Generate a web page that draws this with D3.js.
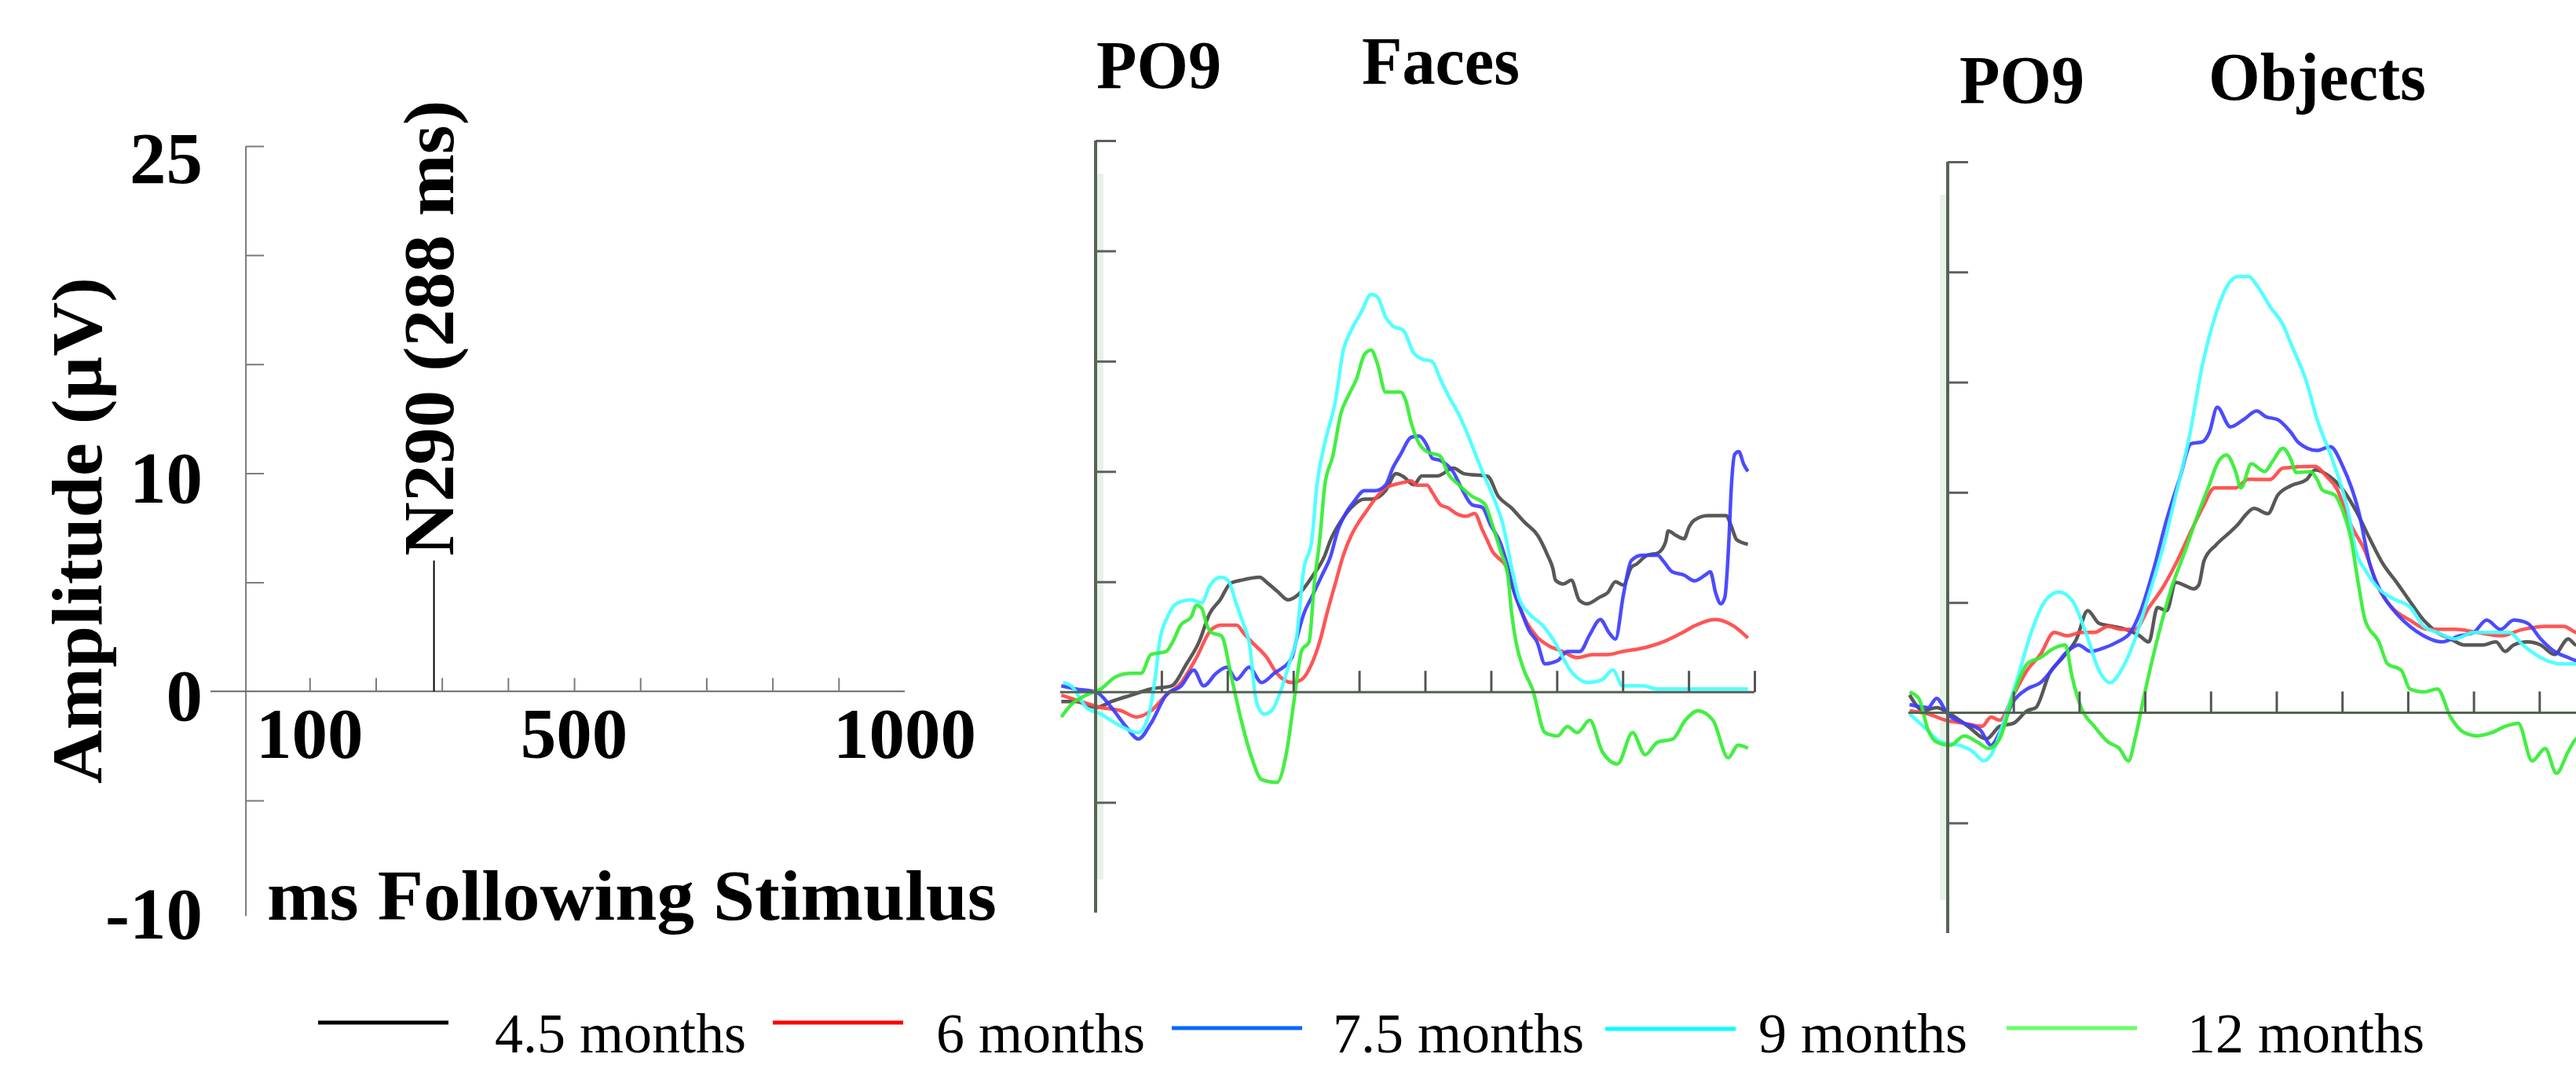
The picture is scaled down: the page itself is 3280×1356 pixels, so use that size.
<!DOCTYPE html>
<html><head><meta charset="utf-8">
<script src="https://cdn.jsdelivr.net/npm/d3@7"></script>
<style>body{margin:0;background:#fff}svg{display:block}</style>
</head><body><svg id="c" width="3280" height="1356"></svg>
<script>
// ---------------- DATA ----------------
const seriesNames = ["4.5 months","6 months","7.5 months","9 months","12 months"];
const legendColors = ["#000000","#ff0000","#0a66ff","#00ffff","#66ff66"];
const traceColors = ["#4a4a4a","#ff4646","#3c3cff","#44ffff","#33ee33"];
const leftYTickLabels = [25,10,0,-10];
const leftXTickLabels = [100,500,1000];
const yTickValues = [-5,0,5,10,15,20,25];
const xTickValues = [100,200,300,400,500,600,700,800,900];
const panelXTickValues = [100,200,300,400,500,600,700,800,900,1000];
const n290Ms = 288, n290Uv = 6, n290Label = "N290 (288 ms)";
const titleElectrode = "PO9";
const panelTitles = ["Faces","Objects"];

// Faces, PO9: [ms, µV]
const facesBlack = [[-52,-0.43],[-30,-0.43],[1,-0.7],[24,-0.43],[54,-0.14],[84,0.14],[115,0.28],[138,1.28],[157,2.27],[173,3.55],[189,4.18],[205,4.94],[221,5.07],[249,5.2],[261,4.94],[276,4.56],[292,4.18],[308,4.43],[328,5.2],[348,6.2],[356,6.85],[372,7.73],[388,8.37],[408,8.75],[420,8.75],[440,9.13],[456,9.9],[467,9.77],[483,9.4],[495,9.8],[519,9.8],[543,10.15],[559,9.9],[595,9.78],[611,8.88],[631,8.35],[651,7.7],[671,7.1],[686,6.2],[694,5.6],[698,5.07],[710,4.9],[722,5.07],[734,4.17],[746,4.0],[765,4.3],[777,4.5],[789,5.0],[801,4.85],[813,5.65],[821,5.8],[837,6.2],[853,6.3],[865,6.8],[869,7.3],[881,7.1],[893,6.95],[901,7.5],[909,7.8],[929,8.0],[957,8.0],[965,7.5],[973,6.9],[990,6.7]];
const facesRed = [[-52,-0.14],[-22,-0.43],[8,-0.7],[39,-0.85],[62,-1.13],[84,-0.85],[107,-0.14],[130,0.43],[153,1.56],[176,2.84],[191,3.03],[214,3.03],[225,2.66],[237,2.27],[260,1.56],[275,0.85],[298,0.43],[313,0.57],[328,1.28],[340,2.27],[352,3.67],[364,4.94],[376,6.2],[388,7.1],[400,7.73],[412,8.24],[424,8.75],[440,9.26],[451,9.38],[467,9.5],[479,9.57],[487,9.38],[503,9.38],[511,9.05],[523,8.5],[535,8.35],[547,8.1],[563,7.97],[575,8.1],[587,7.35],[595,6.84],[603,6.34],[611,6.09],[623,5.7],[638,4.3],[654,3.17],[670,2.5],[686,2.13],[709,1.84],[731,1.56],[754,1.7],[777,1.7],[800,1.84],[830,1.99],[861,2.27],[891,2.7],[909,3.0],[940,3.29],[968,3.0],[990,2.45]];
const facesBlue = [[-52,0.28],[-30,0.14],[1,0],[24,-0.7],[46,-1.56],[65,-2.13],[84,-1.42],[107,-0.14],[130,0.28],[149,0.99],[164,0.28],[183,0.85],[199,1.13],[214,0.57],[233,1.13],[252,0.43],[271,0.85],[298,1.56],[304,2.27],[316,3.55],[328,4.3],[344,5.32],[356,6.09],[368,7.36],[380,8.12],[392,8.63],[408,9.13],[424,9.13],[440,9.38],[451,10.15],[463,10.78],[479,11.55],[491,11.6],[503,11.17],[511,10.6],[523,10.5],[543,9.97],[555,9.26],[571,8.5],[587,8.37],[599,7.6],[615,6.72],[623,5.96],[635,4.56],[646,3.67],[658,2.78],[670,2.27],[682,1.28],[701,1.42],[716,1.84],[735,1.84],[750,2.6],[766,3.29],[779,2.7],[789,2.4],[801,4.4],[813,5.96],[829,6.2],[853,6.2],[861,5.96],[875,5.45],[893,5.3],[909,5.04],[925,5.3],[933,5.45],[941,4.5],[949,4.0],[955,4.3],[961,6.8],[965,9.37],[970,10.78],[976,10.9],[984,10.3],[990,10.0]];
const facesCyan = [[-49,0.43],[-37,0.28],[-14,-0.7],[8,-1.0],[39,-1.56],[65,-1.84],[81,-1.0],[92,1.0],[97,2.27],[109,3.4],[125,4.05],[145,4.18],[161,4.05],[173,4.8],[189,5.2],[201,5.07],[213,4.05],[225,3.03],[233,2.27],[244,-0.43],[256,-1.0],[267,-0.85],[282,0.14],[296,1.5],[304,2.27],[316,5.57],[328,6.85],[336,9.4],[348,11.3],[364,13.2],[376,15.5],[388,16.4],[404,17.27],[418,18.03],[428,17.9],[440,17.0],[451,16.6],[467,16.4],[483,15.36],[495,15.1],[511,14.98],[523,14.2],[535,13.46],[551,12.6],[563,11.8],[575,10.9],[587,10.0],[603,8.88],[619,7.5],[631,5.7],[642,4.3],[658,3.55],[678,3.04],[694,2.4],[724,0.85],[747,0.43],[769,0.57],[785,1.0],[800,0.28],[830,0.28],[853,0.14],[876,0.14],[914,0.14],[952,0.14],[990,0.14]];
const facesGreen = [[-52,-1.13],[-37,-0.57],[-14,-0.14],[8,0.14],[31,0.7],[54,0.85],[69,0.85],[84,1.7],[107,1.84],[117,2.27],[129,3.03],[145,3.4],[153,3.93],[161,3.8],[169,3.03],[176,2.7],[191,2.55],[206,0.7],[221,-1.28],[237,-2.98],[252,-3.97],[275,-4.1],[290,-2.7],[301,-0.43],[313,1.9],[324,2.27],[332,4.94],[340,6.85],[348,9.4],[360,10.7],[372,12.6],[384,13.46],[396,14.2],[408,15.3],[418,15.5],[428,14.86],[440,13.6],[451,13.6],[463,13.6],[471,13.2],[479,12.2],[487,11.5],[503,10.9],[523,10.7],[535,9.9],[551,9.4],[571,8.88],[591,8.5],[603,7.5],[615,6.35],[626,5.2],[631,3.67],[638,2.27],[650,1.0],[663,0.14],[682,-1.84],[701,-1.99],[716,-1.56],[731,-1.84],[750,-1.28],[769,-2.7],[792,-3.26],[815,-1.84],[834,-2.84],[853,-2.27],[876,-2.13],[895,-1.28],[914,-0.85],[937,-1.28],[960,-2.98],[975,-2.41],[990,-2.55]];

// Objects, PO9: [ms, µV]
const objectsBlack = [[-58,0.8],[-37,0.09],[-17,0.23],[4,-0.06],[31,-0.62],[59,-1.19],[79,-0.62],[100,-0.48],[121,0.09],[134,0.23],[155,1.79],[175,2.5],[196,3.35],[213,4.63],[230,4.06],[251,3.92],[271,3.78],[292,3.49],[306,3.21],[319,4.77],[333,4.63],[347,5.91],[361,5.77],[374,5.62],[382,5.8],[390,6.9],[408,7.61],[429,8.18],[442,8.56],[454,9.0],[466,9.27],[487,9.03],[502,9.87],[522,10.3],[546,10.58],[559,11.02],[580,10.74],[600,10.17],[621,9.17],[642,7.9],[662,6.76],[683,5.91],[703,5.06],[724,4.2],[745,3.64],[765,3.35],[786,3.07],[813,3.07],[834,3.21],[848,2.78],[861,3.07],[882,3.21],[902,3.07],[923,2.64],[944,3.35],[956,3.07],[1000,3.0]];
const objectsRed = [[-58,0.09],[-30,-0.06],[-3,-0.34],[25,-0.48],[52,-0.62],[66,-0.2],[79,-0.34],[100,0.8],[121,1.93],[141,2.64],[162,3.64],[182,3.49],[203,3.64],[223,3.64],[244,3.92],[264,3.78],[285,3.78],[306,4.77],[326,5.62],[347,6.76],[367,8.04],[388,9.32],[406,10.2],[438,10.2],[457,10.59],[490,10.58],[510,11.1],[558,11.18],[577,10.7],[593,10.1],[601,9.5],[613,8.56],[635,7.33],[656,5.62],[676,4.77],[703,4.2],[731,3.78],[751,3.78],[772,3.78],[806,3.64],[841,3.49],[875,3.78],[909,3.92],[937,3.92],[956,3.64],[1000,3.5]];
const objectsBlue = [[-58,0.37],[-30,0.23],[-17,0.65],[0,-0.06],[25,-0.48],[49,-0.77],[66,-1.48],[79,-0.91],[100,0.51],[121,1.08],[141,1.36],[162,2.07],[182,2.78],[199,3.07],[217,2.78],[237,2.93],[258,3.21],[278,3.64],[292,4.49],[313,6.48],[333,8.75],[354,10.74],[370,12.2],[388,12.3],[398,12.72],[410,13.86],[430,12.97],[450,13.3],[470,13.69],[484,13.43],[502,13.3],[522,12.72],[534,12.25],[562,11.9],[582,12.07],[601,11.18],[625,9.15],[642,6.76],[662,5.34],[683,4.49],[703,3.92],[724,3.49],[751,3.21],[779,3.49],[800,3.64],[820,4.2],[841,3.78],[861,4.2],[882,4.06],[902,3.35],[923,2.78],[944,2.5],[956,2.36],[1000,2.2]];
const objectsCyan = [[-58,-0.06],[-37,-0.62],[-10,-1.33],[18,-1.48],[38,-1.76],[55,-2.19],[69,-1.76],[86,-0.34],[107,1.65],[127,3.64],[148,5.06],[169,5.48],[190,5.06],[210,3.64],[230,1.93],[247,1.36],[264,1.93],[285,3.35],[306,5.34],[326,7.33],[347,9.88],[367,12.44],[388,15.85],[408,18.1],[429,19.54],[442,19.8],[458,19.8],[470,19.4],[491,18.4],[511,17.55],[522,16.75],[546,15.0],[562,13.3],[585,11.5],[609,9.15],[621,7.33],[635,6.48],[656,5.62],[676,5.2],[704,4.77],[724,3.92],[745,3.64],[772,3.35],[800,3.64],[827,3.64],[854,3.64],[875,3.07],[902,2.5],[930,2.22],[956,2.22],[1000,2.1]];
const objectsGreen = [[-58,0.94],[-44,0.65],[-30,-0.77],[-17,-1.33],[4,-1.48],[25,-1.05],[45,-1.33],[62,-1.62],[79,-1.19],[100,0.8],[121,2.22],[141,2.5],[162,2.93],[179,3.07],[189,1.65],[203,0.23],[223,-0.62],[244,-1.33],[261,-1.62],[275,-2.19],[285,-1.19],[299,0.8],[319,3.35],[340,5.62],[361,7.33],[381,9.03],[398,10.34],[410,11.3],[424,11.7],[438,10.94],[446,10.2],[462,11.3],[482,10.94],[494,11.4],[510,12.0],[522,11.5],[530,10.9],[552,10.94],[562,10.58],[570,10.1],[589,9.87],[601,9.15],[613,7.97],[625,5.8],[635,4.2],[656,3.21],[669,2.22],[690,1.93],[703,1.08],[724,0.94],[745,1.08],[765,-0.2],[786,-0.91],[806,-1.05],[827,-0.91],[848,-0.62],[868,-0.48],[889,-2.19],[909,-1.62],[926,-2.75],[944,-1.76],[956,-1.19],[1000,-0.8]];

const facesSeries = [facesBlack, facesRed, facesBlue, facesCyan, facesGreen];
const objectsSeries = [objectsBlack, objectsRed, objectsBlue, objectsCyan, objectsGreen];

// ---------------- LAYOUT ----------------
const svg = d3.select("#c");
const serif = "'Liberation Serif','Times New Roman',serif";

// Left schematic panel
const xL = d3.scaleLinear().domain([-50, 1000]).range([268, 1152]);
const yL = d3.scaleLinear().domain([-10, 25]).range([1158, 186]);
// Faces panel
const xF = d3.scaleLinear().domain([0, 1000]).range([1395, 2234]);
const yF = d3.scaleLinear().domain([-10, 25]).range([1162, 179]);
// Objects panel
const xO = d3.scaleLinear().domain([0, 1000]).range([2480, 3317]);
const yO = d3.scaleLinear().domain([-10, 25]).range([1188, 206]);

// ---------- Left panel ----------
const gL = svg.append("g");
const leftAxisX = xL(0) + 3;
gL.append("line").attr("x1", leftAxisX).attr("x2", leftAxisX)
  .attr("y1", yL(25)).attr("y2", yL(-10.3)).attr("stroke", "#7a7a7a").attr("stroke-width", 2);
gL.append("line").attr("x1", xL(-50)).attr("x2", xL(1000))
  .attr("y1", yL(0)).attr("y2", yL(0)).attr("stroke", "#6a6a6a").attr("stroke-width", 2);
const lyAxis = gL.append("g").attr("transform", `translate(${leftAxisX},0)`)
  .call(d3.axisRight(yL).tickValues(yTickValues.filter(v => v !== 0)).tickSize(23).tickFormat(""));
lyAxis.select(".domain").remove();
lyAxis.selectAll("line").attr("stroke", "#7a7a7a").attr("stroke-width", 2);
const lxAxis = gL.append("g").attr("transform", `translate(0,${yL(0)})`)
  .call(d3.axisTop(xL).tickValues(xTickValues).tickSize(17).tickFormat(""));
lxAxis.select(".domain").remove();
lxAxis.selectAll("line").attr("stroke", "#7a7a7a").attr("stroke-width", 2);
// y tick labels (top label sits a little lower than its tick)
gL.selectAll("text.ylab").data(leftYTickLabels).join("text").attr("class", "ylab")
  .attr("x", 258).attr("y", d => Math.max(yL(d) + 37, yL(25) + 47)).attr("text-anchor", "end")
  .attr("font-family", serif).attr("font-weight", "bold").attr("font-size", 93).text(d => d);
gL.selectAll("text.xlab").data(leftXTickLabels).join("text").attr("class", "xlab")
  .attr("x", d => xL(d)).attr("y", yL(0) + 85).attr("text-anchor", "middle")
  .attr("font-family", serif).attr("font-weight", "bold").attr("font-size", 91).text(d => d);
// N290 marker
gL.append("line").attr("x1", xL(n290Ms)).attr("x2", xL(n290Ms))
  .attr("y1", yL(0)).attr("y2", yL(n290Uv)).attr("stroke", "#000").attr("stroke-width", 2);
gL.append("text").attr("transform", `translate(${xL(n290Ms) + 24},${yL(n290Uv) - 6}) rotate(-90)`)
  .attr("font-family", serif).attr("font-weight", "bold").attr("font-size", 91)
  .attr("textLength", 580).attr("lengthAdjust", "spacingAndGlyphs").text(n290Label);
gL.append("text").attr("transform", "translate(129,998) rotate(-90)")
  .attr("font-family", serif).attr("font-weight", "bold").attr("font-size", 91)
  .attr("textLength", 645).attr("lengthAdjust", "spacingAndGlyphs").text("Amplitude (µV)");
gL.append("text").attr("x", 340).attr("y", 1171)
  .attr("font-family", serif).attr("font-weight", "bold").attr("font-size", 92)
  .attr("textLength", 929).attr("lengthAdjust", "spacingAndGlyphs").text("ms Following Stimulus");

// ---------- ERP panels ----------
function panel(x, y, series, xStartMs, stripSide) {
  const g = svg.append("g");
  const ax = x(0);
  g.append("rect").attr("x", stripSide > 0 ? ax + 2 : ax - 10).attr("y", y(23.5))
    .attr("width", 8).attr("height", y(-8.5) - y(23.5)).attr("fill", "#e6f3e6");
  const line = d3.line().x(d => x(d[0])).y(d => y(d[1])).curve(d3.curveMonotoneX);
  series.forEach((s, i) => {
    g.append("path").datum(s).attr("d", line).attr("fill", "none")
      .attr("stroke", traceColors[i]).attr("stroke-width", 4.5)
      .attr("stroke-linejoin", "round").attr("stroke-opacity", 0.92);
  });
  g.append("line").attr("x1", x(xStartMs)).attr("x2", x(1000)).attr("y1", y(0)).attr("y2", y(0))
    .attr("stroke", "#536353").attr("stroke-width", 3);
  const xa = g.append("g").attr("transform", `translate(0,${y(0)})`)
    .call(d3.axisTop(x).tickValues(panelXTickValues).tickSize(27).tickFormat(""));
  xa.select(".domain").remove();
  xa.selectAll("line").attr("stroke", "#555").attr("stroke-width", 3);
  g.append("line").attr("x1", ax).attr("x2", ax).attr("y1", y(25)).attr("y2", y(-10))
    .attr("stroke", "#556555").attr("stroke-width", 4);
  const ya = g.append("g").attr("transform", `translate(${ax},0)`)
    .call(d3.axisRight(y).tickValues(yTickValues.filter(v => v !== 0)).tickSize(26).tickFormat(""));
  ya.select(".domain").remove();
  ya.selectAll("line").attr("stroke", "#606060").attr("stroke-width", 3);
  return g;
}
const gF = panel(xF, yF, facesSeries, -54, 1);
const gO = panel(xO, yO, objectsSeries, -60, -1);

function title(g, txt, x, y, w) {
  g.append("text").attr("x", x).attr("y", y).attr("font-family", serif).attr("font-weight", "bold")
    .attr("font-size", 86).attr("textLength", w).attr("lengthAdjust", "spacingAndGlyphs").text(txt);
}
title(gF, titleElectrode, 1396, 112, 159);
title(gF, panelTitles[0], 1734, 107, 201);
title(gO, titleElectrode, 2495, 131, 159);
title(gO, panelTitles[1], 2812, 127, 277);

// ---------- Legend ----------
const legendLineX = [405, 984, 1492, 2044, 2555];
const legendLineY = [1302, 1302, 1309, 1310, 1309];
const legendTextX = [630, 1192, 1697, 2239, 2785];
const gLeg = svg.append("g");
seriesNames.forEach((name, i) => {
  gLeg.append("line").attr("x1", legendLineX[i]).attr("x2", legendLineX[i] + 166)
    .attr("y1", legendLineY[i]).attr("y2", legendLineY[i])
    .attr("stroke", legendColors[i]).attr("stroke-width", 5);
  gLeg.append("text").attr("x", legendTextX[i]).attr("y", 1340)
    .attr("font-family", serif).attr("font-size", 72).attr("fill", "#000").text(name);
});
</script></body></html>
